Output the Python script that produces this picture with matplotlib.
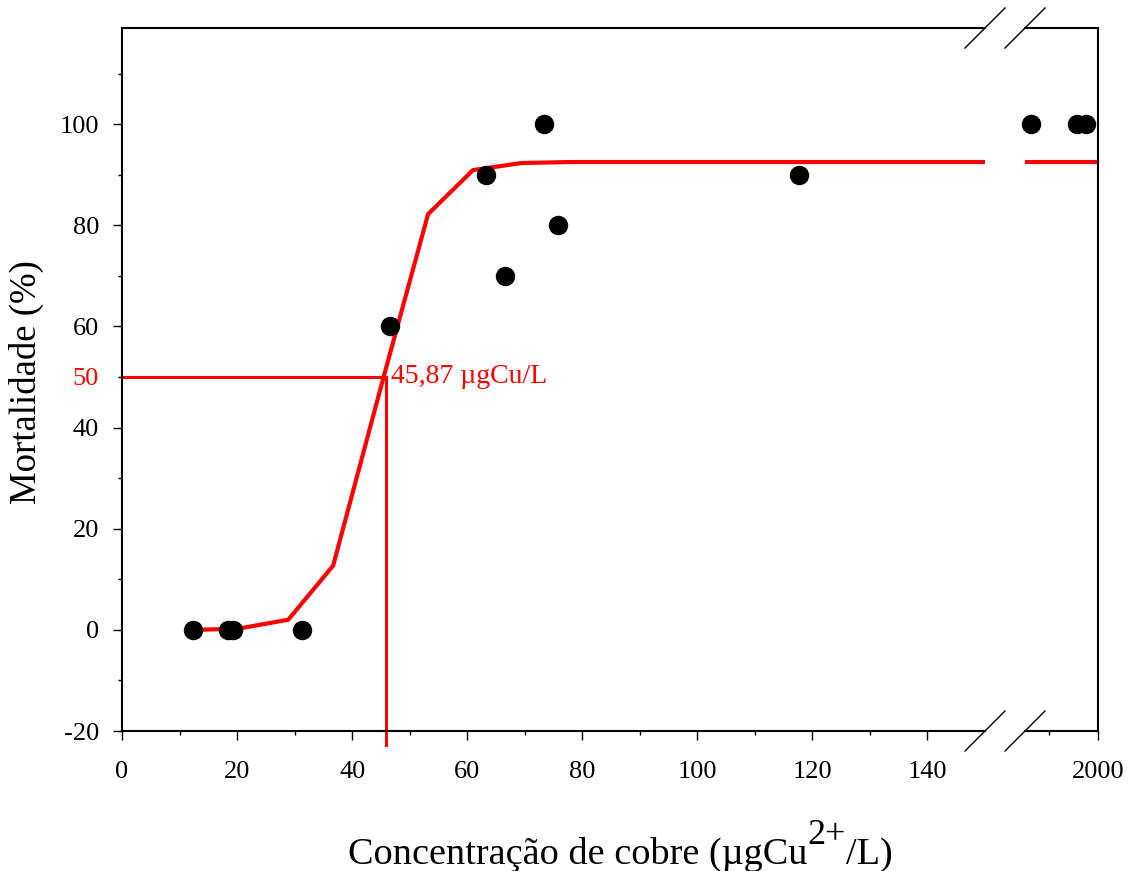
import matplotlib
matplotlib.use('Agg')
import matplotlib.pyplot as plt
from matplotlib.lines import Line2D
import numpy as np

plt.rcParams['font.family'] = ['Liberation Serif', 'DejaVu Serif']
plt.rcParams['axes.unicode_minus'] = False

# observed mortality
obs_x = [12.3, 18.4, 19.3, 31.3, 46.6, 63.3, 66.6, 73.4, 75.8, 117.6]
obs_y = [0, 0, 0, 0, 60, 90, 70, 100, 80, 90]
# points after the axis break
obs_far_x = [1725, 1914, 1951]
obs_far_y = [100, 100, 100]

# fitted curve
fit_x = [12.3, 20, 28.9, 36.7, 45.4, 53.2, 61.0, 69.4, 77.9, 2000]
fit_y = [0, 0.2, 2.0, 12.7, 49.7, 82.2, 90.9, 92.3, 92.5, 92.5]

lc50 = 45.87
lc50_label = '45,87 µgCu/L'

W, H = 1142, 871
fig = plt.figure(figsize=(W / 100, H / 100), dpi=100)

x0, x1, x2, x3 = 122, 985, 1025, 1098
ytop, ybot = 28, 731
ax = fig.add_axes([x0 / W, (H - ybot) / H, (x1 - x0) / W, (ybot - ytop) / H])
ax2 = fig.add_axes([x2 / W, (H - ybot) / H, (x3 - x2) / W, (ybot - ytop) / H], sharey=ax)

for a in (ax, ax2):
    a.plot(fit_x, fit_y, color='red', lw=3, zorder=2)
    for s in a.spines.values():
        s.set_linewidth(1.5)
    a.tick_params(which='major', direction='out', length=6.5, width=1, labelsize=19)
    a.tick_params(axis='x', which='major', pad=15)
    a.tick_params(axis='y', which='major', pad=10)
    a.tick_params(which='minor', direction='out', length=3, width=1)

ax.plot(obs_x, obs_y, 'o', color='black', ms=13, zorder=3)
ax2.plot(obs_far_x, obs_far_y, 'o', color='black', ms=13, zorder=3, clip_on=False)

ax.set_xlim(0, 150)
ax.set_ylim(-20, 119)
ax.set_xticks(np.arange(0, 141, 20))
ax.set_xticks(np.arange(10, 150, 20), minor=True)
ax.set_yticks([-20, 0, 20, 40, 50, 60, 80, 100])
ax.set_yticks([-10, 10, 30, 70, 90, 110], minor=True)
ax.spines['right'].set_visible(False)

ax2.set_xlim(1700, 2000)
ax2.set_xticks([2000])
ax2.set_xticks([1800], minor=True)
ax2.spines['left'].set_visible(False)
ax2.tick_params(axis='y', which='both', left=False, labelleft=False)

fig.canvas.draw()
for t in ax.yaxis.get_major_ticks():
    if abs(t.get_loc() - 50) < 1e-6:
        t.label1.set_color('red')
        t.tick1line.set_color('red')
        t.tick1line.set_markersize(3)

# LC50 guide lines
ax.plot([0, lc50], [50, 50], color='red', lw=2.2, zorder=1)
ax.plot([lc50, lc50], [50, -22.8], color='red', lw=2.2, zorder=1, clip_on=False)
ax.text(lc50 + 0.8, 50, lc50_label, color='red', fontsize=20, va='center', ha='left')

fig.text(26 / W, (H - 382) / H, 'Mortalidade (%)', fontsize=26.5,
         rotation=90, ha='center', va='center')

# x label with a full-size raised superscript
r = fig.canvas.get_renderer()
base = (H - 864) / H
parts = [('Concentração de cobre (µgCu', 27.5, base),
         ('2+', 26, base + 20 / H),
         ('/L)', 27.5, base)]
texts = [fig.text(0, y, s, fontsize=fs, ha='left', va='baseline') for s, fs, y in parts]
widths = [t.get_window_extent(r).width for t in texts]
xpos = 620 - sum(widths) / 2
for t, w in zip(texts, widths):
    t.set_x(xpos / W)
    xpos += w

# break marks
for yb in (ytop, ybot):
    for xb in (x1, x2):
        fig.add_artist(Line2D([(xb - 20) / W, (xb + 20) / W],
                              [(H - yb - 20) / H, (H - yb + 20) / H],
                              color='black', lw=1, transform=fig.transFigure))

fig.savefig('out.png', dpi=100)
